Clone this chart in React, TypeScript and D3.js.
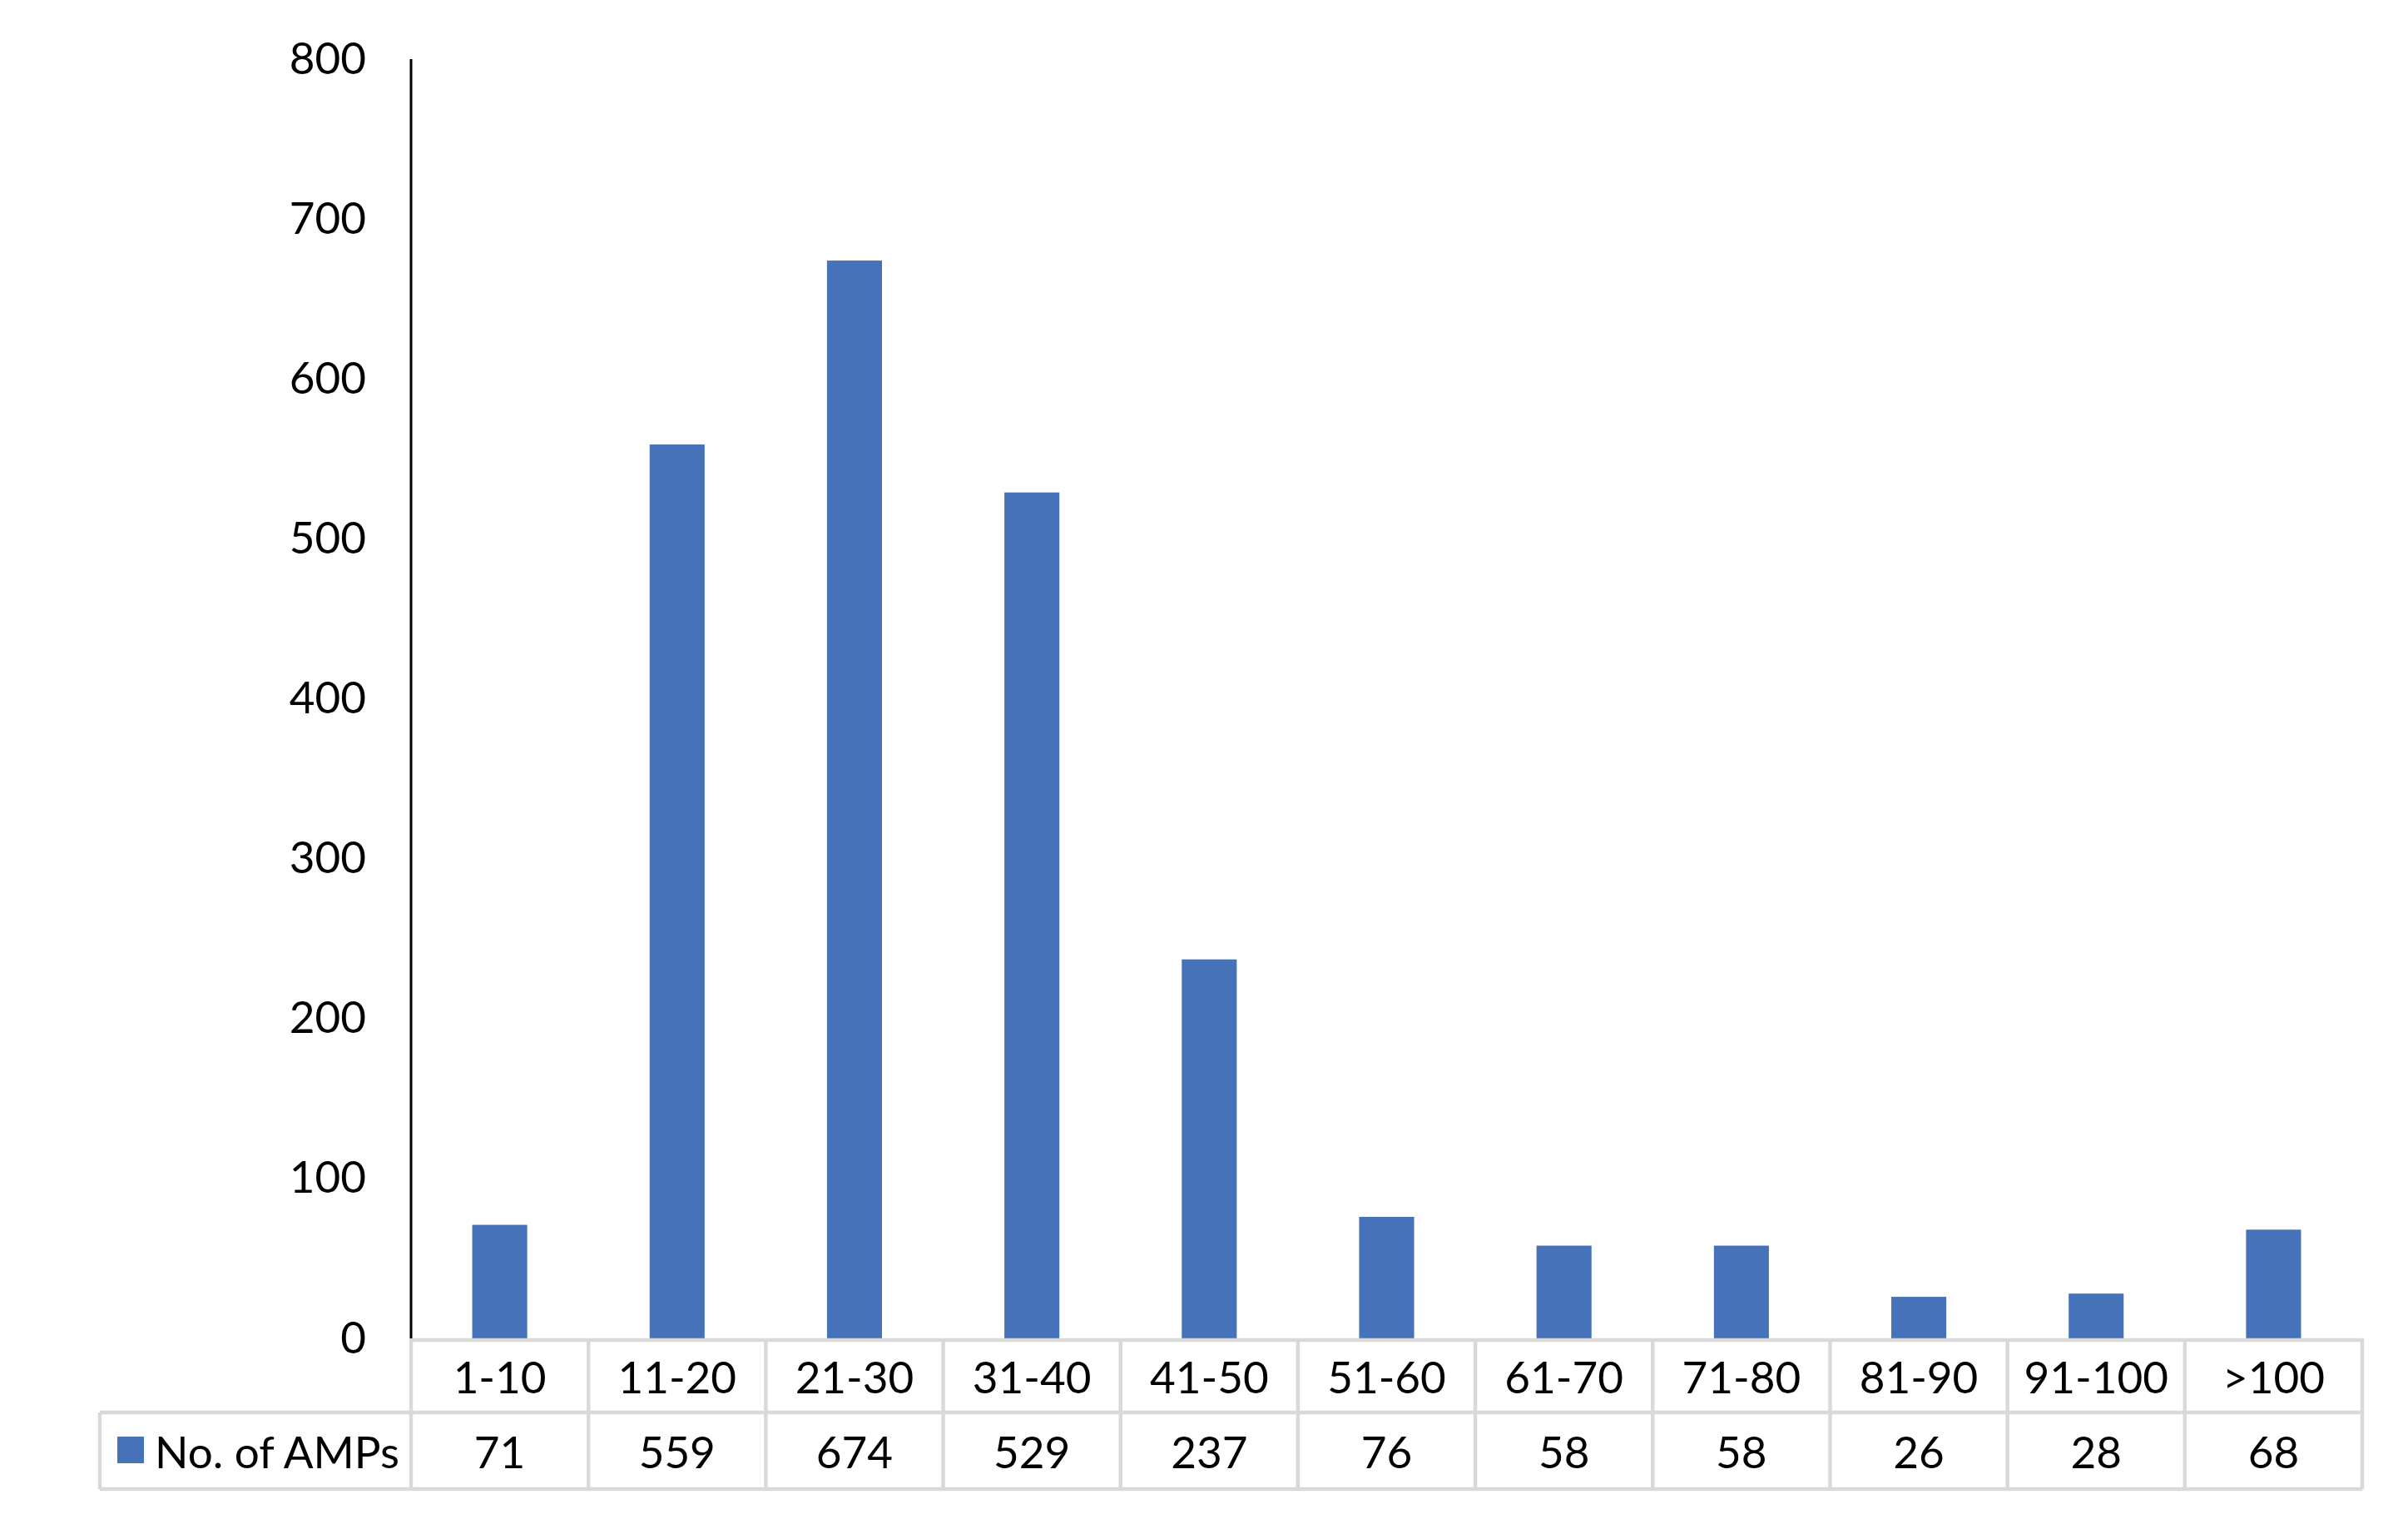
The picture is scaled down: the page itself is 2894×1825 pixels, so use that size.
import React from "react";
import * as d3 from "d3";

const categories = ["1-10", "11-20", "21-30", "31-40", "41-50", "51-60", "61-70", "71-80", "81-90", "91-100", ">100"];
const values = [71, 559, 674, 529, 237, 76, 58, 58, 26, 28, 68];
const yTicks = [0, 100, 200, 300, 400, 500, 600, 700, 800];
const seriesName = "No. of AMPs";

export default function App() {
  const W = 2894, H = 1825;
  const plotLeft = 494, plotRight = 2839, plotTop = 71, plotBottom = 1608;
  const row1Bottom = 1697, row2Bottom = 1789, tableLeft = 120;
  const font = "Lato, 'Open Sans', sans-serif";
  const fs = 53;
  const blue = "#4672BA";
  const grid = "#d9d9d9";

  const x = d3.scaleBand<string>().domain(categories).range([plotLeft, plotRight]).paddingInner(0).paddingOuter(0);
  const y = d3.scaleLinear().domain([0, 800]).range([plotBottom, plotTop]);
  const bw = x.bandwidth() * 0.31;

  return (
    <svg width={W} height={H} style={{ position: "absolute", left: 0, top: 0, background: "#fff" }}>
      <rect x={0} y={0} width={W} height={H} fill="#fff" />
      {values.map((v, i) => {
        const cx = (x(categories[i]) as number) + x.bandwidth() / 2;
        return <rect key={i} x={cx - bw / 2} y={y(v)} width={bw} height={plotBottom - y(v)} fill={blue} />;
      })}
      {yTicks.map((t) => (
        <text key={t} x={440} y={y(t) - 3} textAnchor="end" dominantBaseline="central" fontFamily={font} fontSize={fs} fill="#000">
          {t}
        </text>
      ))}
      {/* table */}
      <g stroke={grid} strokeWidth={4.5} fill="none">
        <line x1={plotLeft} x2={plotRight} y1={plotBottom + 2} y2={plotBottom + 2} />
        <line x1={tableLeft} x2={plotRight} y1={row1Bottom} y2={row1Bottom} />
        <line x1={tableLeft} x2={plotRight} y1={row2Bottom} y2={row2Bottom} />
        <line x1={tableLeft} x2={tableLeft} y1={row1Bottom} y2={row2Bottom} />
        {categories.map((c) => (
          <line key={c} x1={x(c) as number} x2={x(c) as number} y1={plotBottom} y2={row2Bottom} />
        ))}
        <line x1={plotRight} x2={plotRight} y1={plotBottom} y2={row2Bottom} />
      </g>
      <line x1={plotLeft} x2={plotLeft} y1={plotTop} y2={plotBottom} stroke="#000" strokeWidth={3} />
      {categories.map((c, i) => {
        const cx = (x(c) as number) + x.bandwidth() / 2;
        return (
          <g key={c}>
            <text x={cx} y={(plotBottom + row1Bottom) / 2 + 1} textAnchor="middle" dominantBaseline="central" fontFamily={font} fontSize={fs} fill="#000">
              {c}
            </text>
            <text x={cx} y={(row1Bottom + row2Bottom) / 2} textAnchor="middle" dominantBaseline="central" fontFamily={font} fontSize={fs} fill="#000">
              {values[i]}
            </text>
          </g>
        );
      })}
      <rect x={141} y={1726} width={32} height={32} fill={blue} />
      <text x={186} y={(row1Bottom + row2Bottom) / 2} dominantBaseline="central" fontFamily={font} fontSize={fs} fill="#000">
        {seriesName}
      </text>
    </svg>
  );
}
